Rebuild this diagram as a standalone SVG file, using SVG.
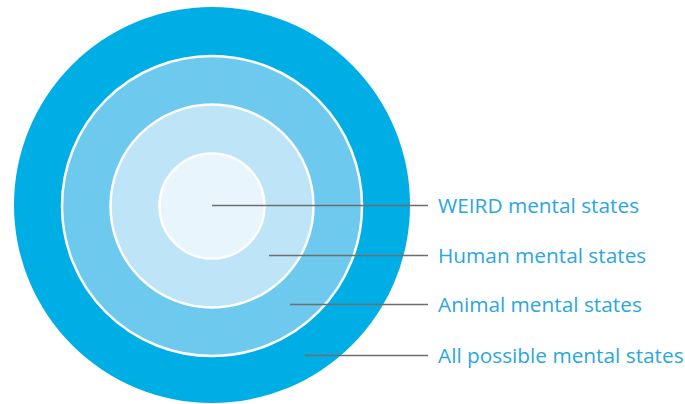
<svg xmlns="http://www.w3.org/2000/svg" width="685" height="404" viewBox="0 0 685 404">
<style>
.ring{stroke:#ffffff;stroke-width:2.5}
.lead{stroke:#6e6e6e;stroke-width:1.5;fill:none}
.lbl{font-family:"Open Sans","Noto Sans",sans-serif;font-size:20.8px;fill:#2aa7df}
</style>
<rect width="685" height="404" fill="#ffffff"/>
<g id="all-possible"><circle cx="212" cy="205" r="198" fill="#00aee6"/></g>
<g id="animal"><circle class="ring" cx="212" cy="206" r="150" fill="#6ec9ef"/></g>
<g id="human"><circle class="ring" cx="212" cy="206" r="101.5" fill="#bde4f7"/></g>
<g id="weird"><circle class="ring" cx="212" cy="206" r="52.5" fill="#e8f5fd"/></g>
<g id="connectors">
<line class="lead" x1="212" y1="205.5" x2="428" y2="205.5"/>
<line class="lead" x1="269" y1="255.5" x2="428" y2="255.5"/>
<line class="lead" x1="290" y1="304.5" x2="428" y2="304.5"/>
<line class="lead" x1="305" y1="355.5" x2="428" y2="355.5"/>
</g>
<g id="labels">
<text class="lbl" x="438" y="213">WEIRD mental states</text>
<text class="lbl" x="438" y="263">Human mental states</text>
<text class="lbl" x="438" y="312">Animal mental states</text>
<text class="lbl" x="438" y="363">All possible mental states</text>
</g>
</svg>
